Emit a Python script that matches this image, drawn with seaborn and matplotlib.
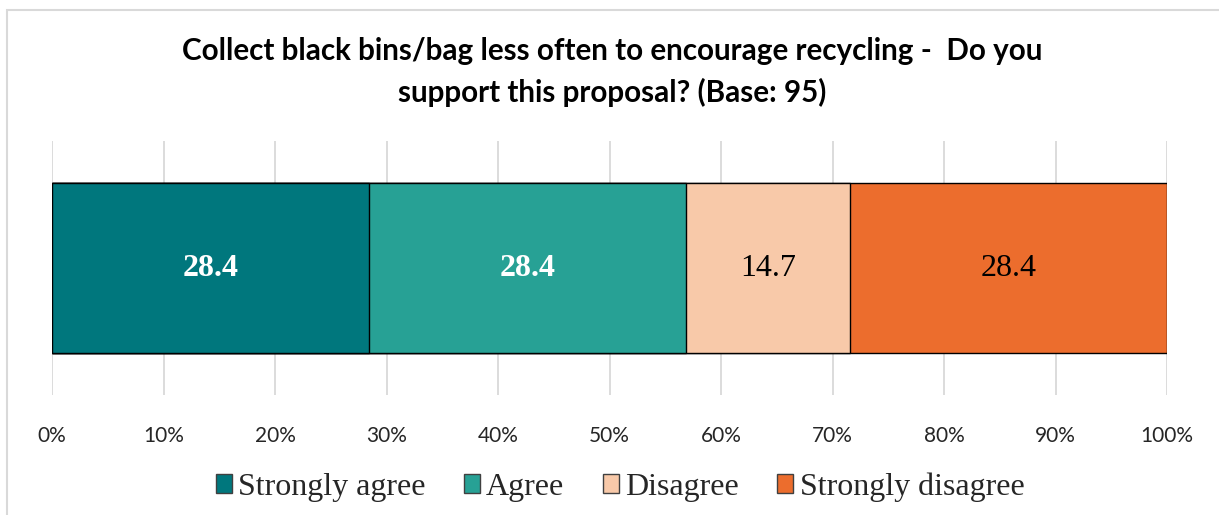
import matplotlib
matplotlib.use("Agg")
import matplotlib.pyplot as plt
import seaborn as sns
import pandas as pd
import numpy as np
from matplotlib.patches import Patch, Rectangle

# ---- data ----
categories = ["Strongly agree", "Agree", "Disagree", "Strongly disagree"]
values = [28.4, 28.4, 14.7, 28.4]
colors = ["#00777D", "#27A195", "#F8C9A9", "#EC6D2D"]
label_colors = ["white", "white", "black", "black"]
label_weights = ["bold", "bold", "normal", "normal"]
tick_values = [0, 10, 20, 30, 40, 50, 60, 70, 80, 90, 100]
tick_labels = [f"{v}%" for v in tick_values]
title = "Collect black bins/bag less often to encourage recycling -  Do you\nsupport this proposal? (Base: 95)"

sns.set_theme(style="white")
plt.rcParams['font.family'] = ['Lato', 'DejaVu Sans']

W, H = 1219, 515
fig = plt.figure(figsize=(W / 100, H / 100), dpi=100)
ax = fig.add_axes([52 / W, 1 - 395 / H, (1167 - 52) / W, (395 - 141) / H])

cum = np.cumsum(values)
total = cum[-1]
pct_cum = cum / total * 100
starts = np.concatenate([[0], pct_cum[:-1]])

# draw stacked bars (largest cumulative first so smaller ones overlay)
for i in reversed(range(len(categories))):
    df = pd.DataFrame({"row": ["q"], "x": [pct_cum[i]]})
    sns.barplot(data=df, x="x", y="row", color=colors[i], saturation=1,
                width=0.667, edgecolor="black", linewidth=1.0, ax=ax, orient="h")

for i in range(len(categories)):
    center = (starts[i] + pct_cum[i]) / 2
    ax.text(center, 0, f"{values[i]:.1f}", ha="center", va="center",
            fontsize=23, color=label_colors[i], fontweight=label_weights[i],
            family="Liberation Serif")

ax.set_xlim(0, 100)
ax.set_ylim(0.5, -0.5)
ax.set_xticks(tick_values)
ax.set_xticklabels(tick_labels, fontsize=15, color="#262626")
ax.set_yticks([])
ax.set_xlabel("")
ax.set_ylabel("")
ax.grid(axis="x", color="#D9D9D9", linewidth=1.3)
ax.set_axisbelow(True)
for s in ax.spines.values():
    s.set_visible(False)
ax.tick_params(axis="x", length=0, pad=22)

fig.text(612 / W, 1 - 72 / H, title, ha="center", va="center",
         fontsize=21.3, fontweight="bold", color="black", linespacing=1.55)

handles = [Patch(facecolor=c, edgecolor="#404040", linewidth=1.0) for c in colors]
leg = fig.legend(handles, categories, loc="center", bbox_to_anchor=(620 / W, 1 - 487 / H),
                 ncol=4, frameon=False, prop={"family": "Liberation Serif", "size": 23},
                 handlelength=0.5, handleheight=0.5, handletextpad=0.2, columnspacing=1.2,
                 borderaxespad=0)

fig.patches.append(Rectangle((7 / W, -0.1), 1.2, 1 - 10 / H + 0.1,
                             transform=fig.transFigure, fill=False,
                             edgecolor="#D9D9D9", linewidth=1.5))

fig.savefig("out.png", dpi=100)
